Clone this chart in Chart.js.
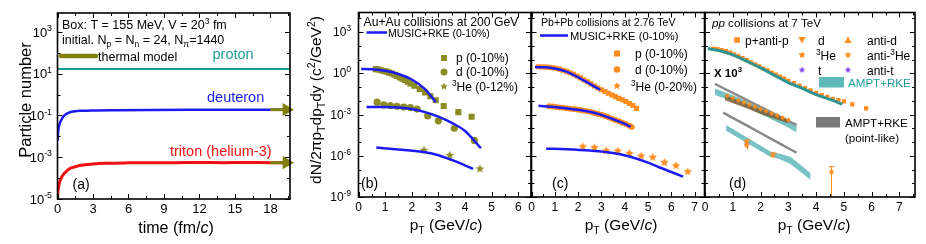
<!DOCTYPE html>
<html><head><meta charset="utf-8">
<script src="https://cdn.jsdelivr.net/npm/chart.js@4.4.0/dist/chart.umd.min.js"></script>
<style>
html,body{margin:0;padding:0;background:#fff;}
#wrap{position:relative;width:926px;height:244px;overflow:hidden;background:#fff;}
#wrap canvas{position:absolute;left:0;top:0;}
</style></head>
<body><div id="wrap">
<canvas id="cA" width="926" height="244"></canvas>
<canvas id="cB" width="926" height="244"></canvas>
<canvas id="cC" width="926" height="244"></canvas>
<canvas id="cD" width="926" height="244"></canvas>
</div>
<script>
// ================= DATA =================
// ---- panel (a): particle number vs time ----
const timeProton = [0, 19.65];
const nProton = [17, 17];
const timeDeuteron = [0,0.05,0.1,0.2,0.3,0.5,0.7,1,1.5,2,3,5,8,12,16,19.65];
const nDeuteron = [0.006,0.015,0.025,0.043,0.058,0.09,0.115,0.14,0.16,0.168,0.175,0.18,0.185,0.188,0.19,0.19];
const timeTriton = [0,0.05,0.1,0.2,0.35,0.5,0.7,1,1.5,2,3,4,6,8,10,12,14,16,18,19.65];
const nTriton = [1.0e-5,2.5e-5,4e-5,7e-5,1.1e-4,1.5e-4,2e-4,2.8e-4,3.5e-4,4.1e-4,4.7e-4,5.1e-4,5.4e-4,5.5e-4,5.5e-4,5.6e-4,5.5e-4,5.6e-4,5.5e-4,5.5e-4];
const thermalTime = [18, 19.35];
const thermalDeuteron = [0.19, 0.19];
const thermalTriton = [5.5e-4, 5.5e-4];
const ticksA_x = [0,3,6,9,12,15,18];
const ticksA_y = [1e-5,1e-3,1e-1,1e1,1e3];

// ---- panel (b): Au+Au 200 GeV ----
const ptB_p = [0.65,0.75,0.85,0.95,1.05,1.15,1.25,1.35,1.45,1.55,1.65,1.75,1.85,1.95,2.1,2.3,2.5,2.7,2.9,3.2,3.75,4.25];
const yB_p = [2.0,1.9,1.66,1.48,1.32,1.12,0.95,0.79,0.63,0.5,0.4,0.32,0.24,0.18,0.126,0.071,0.04,0.021,0.011,0.0042,0.0015,6.9e-4];
const ptB_d = [0.7,0.95,1.2,1.45,1.7,1.95,2.2,2.6,3.0,3.6,4.35];
const yB_d = [7.9e-3,5.0e-3,4.5e-3,4.0e-3,3.5e-3,3.2e-3,2.5e-3,7.9e-4,3.5e-4,1.0e-4,1.3e-5];
const ptB_he = [2.46,3.43,4.56];
const yB_he = [2.5e-6,1.07e-6,1.1e-7];
const ptB_pFit = [0.1,0.5,1.0,1.5,2.0,2.5,2.9];
const yB_pFit = [2.04,2.0,1.5,0.89,0.35,0.071,0.0079];
const ptB_dFit = [0.3,1.0,1.5,2.0,2.5,3.0,3.5,4.0,4.6];
const yB_dFit = [3.5e-3,3.5e-3,3.2e-3,2.5e-3,1.5e-3,7.1e-4,2.5e-4,6.3e-5,3.5e-6];
const ptB_heFit = [0.67,1.5,2.5,3.0,3.5,4.0,4.3];
const yB_heFit = [4.0e-6,2.8e-6,1.8e-6,1.1e-6,5.0e-7,2.0e-7,1.1e-7];

// ---- panel (c): Pb+Pb 2.76 TeV ----
const ptC_p = [0.3,0.45,0.6,0.75,0.9,1.05,1.2,1.35,1.5,1.65,1.8,1.95,2.1,2.25,2.4,2.55,2.7,2.85,3.0,3.15,3.3,3.45,3.6,3.75,3.9,4.05,4.2,4.35,4.5];
const yC_p = [2.95,2.88,2.82,2.69,2.51,2.29,2.0,1.66,1.38,1.1,0.85,0.63,0.46,0.33,0.24,0.17,0.12,0.085,0.063,0.047,0.035,0.026,0.02,0.015,0.0117,0.0089,0.0063,0.0045,0.0028];
const ptC_d = [0.75,0.9,1.05,1.2,1.35,1.5,1.65,1.8,1.95,2.1,2.25,2.4,2.55,2.7,2.85,3.0,3.15,3.3,3.45,3.6,3.75,3.9,4.05,4.2,4.3];
const yC_d = [4.0e-3,3.8e-3,3.5e-3,3.3e-3,3.1e-3,2.8e-3,2.6e-3,2.5e-3,2.3e-3,2.1e-3,1.9e-3,1.7e-3,1.5e-3,1.3e-3,1.1e-3,9.5e-4,7.8e-4,6.3e-4,5.0e-4,4.0e-4,3.2e-4,2.5e-4,2.0e-4,1.5e-4,1.26e-4];
const ptC_he = [2.2,2.7,3.2,3.7,4.2,4.7,5.2,5.7,6.2,6.7];
const yC_he = [4.6e-6,3.9e-6,2.3e-6,2.2e-6,1.5e-6,9.5e-7,7.8e-7,3.2e-7,1.9e-7,6.9e-8];
const ptC_pFit = [0.15,0.6,1.0,1.5,2.0,2.5,2.95];
const yC_pFit = [2.8,2.7,2.2,1.3,0.5,0.17,0.063];
const ptC_dFit = [0.3,1.0,1.5,2.0,2.5,3.0,3.5,4.0,4.25];
const yC_dFit = [4.3e-3,3.5e-3,2.8e-3,2.2e-3,1.6e-3,9.5e-4,4.5e-4,2.1e-4,1.26e-4];
const ptC_heFit = [0.63,1.5,2.5,3.5,4.2,5.0,5.5,6.0,6.5];
const yC_heFit = [3.3e-6,3.0e-6,2.4e-6,1.6e-6,8.9e-7,3.2e-7,1.4e-7,6.6e-8,3.0e-8];

// ---- panel (d): pp 7 TeV ----
const ptD_p = [0.3,0.45,0.6,0.75,0.9,1.05,1.2,1.35,1.5,1.65,1.8,1.95,2.1,2.25,2.4,2.55,2.7,2.85,3.0,3.2,3.4,3.6,3.8,4.0,4.2,4.4,4.6,4.8,5.0,5.3,5.8];
const yD_p = [63,56,48,40,32,24,18,12.6,8.9,6.3,4.5,3.2,2.2,1.6,1.12,0.79,0.56,0.4,0.28,0.19,0.126,0.083,0.056,0.038,0.026,0.019,0.014,0.0112,0.0089,0.0055,0.0028];
const ptD_pAmpt = [0.1,0.5,1.0,1.5,2.0,2.5,3.0,3.5,4.0,4.5,4.95];
const yD_pAmpt = [63,45,22,7.6,2.5,0.71,0.21,0.079,0.028,0.0126,0.0056];
const ptD_dBand = [0.36,1.0,1.5,2.0,2.5,3.0,3.3];
const yD_dBandHi = [7.9e-2,2.5e-2,1.0e-2,3.2e-3,1.0e-3,3.2e-4,1.6e-4];
const yD_dBandLo = [2.6e-2,8.9e-3,3.5e-3,1.1e-3,3.5e-4,1.1e-4,5.0e-5];
const ptD_dPoint = [0.36,1.0,1.5,2.0,2.5,3.0,3.3];
const yD_dPoint = [0.166,0.037,0.0115,3.6e-3,1.1e-3,3.5e-4,1.7e-4];
const ptD_dDataBand = [0.72,1.5,2.0,2.5,3.0];
const yD_dDataBandHi = [2.6e-2,6.3e-3,2.5e-3,1.0e-3,4.0e-4];
const yD_dDataBandLo = [1.1e-2,2.8e-3,1.1e-3,5.0e-4,2.3e-4];
const ptD_d = [0.8,1.0,1.2,1.4,1.6,1.8,2.0,2.2,2.4,2.6,2.8,3.0];
const yD_d = [2.4e-2,1.66e-2,1.1e-2,7.9e-3,5.4e-3,3.8e-3,2.6e-3,1.8e-3,1.26e-3,8.7e-4,6.0e-4,4.2e-4];
const yD_antid = [2.2e-2,1.5e-2,1.0e-2,7.1e-3,5.0e-3,3.5e-3,2.4e-3,1.7e-3,1.15e-3,8.0e-4,5.5e-4,3.8e-4];
const ptD_hePoint = [0.66,1.5,2.0,2.5,3.0,3.3];
const yD_hePoint = [1.35e-3,1.6e-4,4.5e-5,1.26e-5,3.5e-6,1.66e-6];
const ptD_heBand = [0.76,1.5,2.0,2.35,2.7,3.07,3.4,3.8];
const yD_heBandHi = [1.74e-4,2.2e-5,5.6e-6,2.0e-6,1.4e-6,8.5e-7,2.5e-7,5.4e-8];
const yD_heBandLo = [6.6e-5,8.9e-6,2.2e-6,8.5e-7,5.6e-7,2.5e-7,7.9e-8,1.74e-8];
const ptD_he = [1.5,2.44,4.55];
const yD_he = [1.0e-5,1.1e-6,6.9e-8];
const yD_heErrHi = [1.4e-5,1.6e-6,1.6e-7];
const yD_heErrLo = [2.8e-6,7.0e-7,1e-10];
const ptD_antihe = [1.5];
const yD_antihe = [5.6e-6];
const ptD_t = [1.5];
const yD_t = [8e-6];

const ticksBCD_y = [1e-9,1e-6,1e-3,1e0,1e3];
const ticksB_x = [0,1,2,3,4,5,6];
const ticksCD_x = [0,1,2,3,4,5,6,7];

// ================= STYLE / HELPERS =================
const FONT = '"Liberation Sans", Arial, Helvetica, sans-serif';
const BLUE = '#1c1cf0', RED = '#f01010', TEAL = '#1e9b96', OLIVE = '#808010';
const OLIVEM = '#8c8c22', ORANGE = '#ff8c1e', PURPLE = '#7a3be6';
const BANDTEAL = 'rgba(95,185,185,0.85)', GREY = '#8a8a8a';

function pts(xs, ys){ return xs.map((x,i)=>({x:x, y:ys[i]})); }
function makeStar(color, r){
  const s = Math.ceil(r*2+2), c = document.createElement('canvas');
  c.width = s; c.height = s; const g = c.getContext('2d');
  g.fillStyle = color; g.beginPath();
  for(let i=0;i<10;i++){ const a=-Math.PI/2+i*Math.PI/5, rr = i%2 ? r*0.45 : r;
    g.lineTo(s/2+rr*Math.cos(a), s/2+rr*Math.sin(a)); }
  g.closePath(); g.fill(); return c;
}
function rich(ctx, x, y, parts, size, color, align){
  const segs = parts.map(p => typeof p === 'string' ? [p, ''] : p);
  const fontFor = f => {
    const s = (f.includes('_') || f.includes('^')) ? size*0.68 : size;
    return (f.includes('i') ? 'italic ' : '') + (f.includes('B') ? 'bold ' : '') + s.toFixed(1) + 'px ' + FONT;
  };
  let w = 0;
  for(const [t,f] of segs){ ctx.font = fontFor(f); w += ctx.measureText(t).width; }
  let cx = align === 'center' ? x - w/2 : align === 'right' ? x - w : x;
  const base = y + size*0.35;
  ctx.fillStyle = color; ctx.textBaseline = 'alphabetic'; ctx.textAlign = 'left';
  for(const [t,f] of segs){
    ctx.font = fontFor(f);
    const dy = f.includes('_') ? size*0.24 : f.includes('^') ? -size*0.42 : 0;
    ctx.fillText(t, cx, base + dy); cx += ctx.measureText(t).width;
  }
}
function rotRich(ctx, x, y, parts, size, color){
  ctx.save(); ctx.translate(x, y); ctx.rotate(-Math.PI/2);
  rich(ctx, 0, 0, parts, size, color, 'center'); ctx.restore();
}
function drawMarker(ctx, kind, x, y, r, color){
  ctx.save(); ctx.fillStyle = color;
  if(kind === 'rect'){ ctx.fillRect(x-r, y-r, 2*r, 2*r); }
  else if(kind === 'circle'){ ctx.beginPath(); ctx.arc(x,y,r,0,2*Math.PI); ctx.fill(); }
  else if(kind === 'star'){ const s = makeStar(color, r); ctx.drawImage(s, x - s.width/2, y - s.height/2); }
  else if(kind === 'tup' || kind === 'tdown'){
    const d = kind === 'tup' ? -1 : 1; ctx.beginPath();
    ctx.moveTo(x, y + d*r); ctx.lineTo(x - r, y - d*r*0.8); ctx.lineTo(x + r, y - d*r*0.8); ctx.closePath(); ctx.fill();
  }
  ctx.restore();
}

function framePlugin(id, cfg){
  return { id: id, afterDraw(chart){
    const ctx = chart.ctx, a = chart.chartArea, xs = chart.scales.x, ys = chart.scales.y;
    ctx.save();
    ctx.strokeStyle = '#000'; ctx.lineWidth = 1;
    const tickX = (v, len) => { const p = Math.round(xs.getPixelForValue(v)) + 0.5;
      ctx.beginPath(); ctx.moveTo(p, a.bottom); ctx.lineTo(p, a.bottom - len);
      ctx.moveTo(p, a.top); ctx.lineTo(p, a.top + len); ctx.stroke(); };
    const tickY = (v, len) => { const p = Math.round(ys.getPixelForValue(v)) + 0.5;
      ctx.beginPath(); ctx.moveTo(a.left, p); ctx.lineTo(a.left + len, p);
      ctx.moveTo(a.right, p); ctx.lineTo(a.right - len, p); ctx.stroke(); };
    cfg.xMajor.forEach(v => tickX(v, 5)); cfg.xMinor.forEach(v => tickX(v, 3));
    cfg.yMajor.forEach(v => tickY(v, 5)); cfg.yMinor.forEach(v => tickY(v, 3));
    ctx.lineWidth = 1.6;
    ctx.strokeRect(a.left, a.top, a.right - a.left, a.bottom - a.top);
    cfg.xLabels.forEach(v => rich(ctx, xs.getPixelForValue(v), cfg.xLabelY, [String(v)], cfg.tickSize, '#000', 'center'));
    if(cfg.yLabels) cfg.yLabels.forEach(v => {
      const e = Math.round(Math.log10(v));
      rich(ctx, cfg.yLabelX, ys.getPixelForValue(v), ['10', [String(e), '^']], cfg.tickSize, '#000', 'right');
    });
    if(cfg.extra) cfg.extra(ctx, chart);
    ctx.restore();
  }};
}
function range(a, b, s){ const r=[]; for(let v=a; v<=b+1e-9; v+=s) r.push(+v.toFixed(3)); return r; }
function decades(a, b){ const r=[]; for(let e=a; e<=b; e++) r.push(Math.pow(10,e)); return r; }

function baseOptions(area, xmin, xmax, ymin, ymax){
  return {
    responsive:false, animation:false, devicePixelRatio:1,
    layout:{padding:{left:area[0], top:area[1], right:926-area[2], bottom:244-area[3]}},
    plugins:{legend:{display:false}, tooltip:{enabled:false}, title:{display:false}},
    scales:{
      x:{type:'linear', min:xmin, max:xmax, display:false},
      y:{type:'logarithmic', min:ymin, max:ymax, display:false}
    },
    elements:{line:{tension:0}, point:{radius:0}}
  };
}
function lineDS(data, color, width, extra){
  return Object.assign({data:data, borderColor:color, borderWidth:width, pointRadius:0, fill:false,
    cubicInterpolationMode:'monotone', showLine:true}, extra||{});
}
function markDS(data, style, r, color){
  return {data:data, showLine:false, pointStyle:style, pointRadius:r, pointBackgroundColor:color,
    pointBorderColor:color, pointBorderWidth:0, borderColor:color};
}
function ordered(list){ list.forEach((d,i)=>{ d.order = 200 - i; }); return list; }

const starOlive = makeStar(OLIVEM, 4.5);
const starOrange = makeStar(ORANGE, 4.5);
const starOrangeS = makeStar(ORANGE, 3.5);
const starPurpleS = makeStar(PURPLE, 3);

// ================= PANEL A =================
const areaA = [57.5, 13, 290, 199];
new Chart(document.getElementById('cA'), {
  type:'line',
  data:{datasets: ordered([
    lineDS(pts(timeTriton, nTriton), RED, 3),
    lineDS(pts(timeDeuteron, nDeuteron), BLUE, 2.5),
    lineDS(pts(timeProton, nProton), TEAL, 2),
    lineDS(pts(thermalTime, thermalDeuteron), OLIVE, 3, {pointRadius:[0,4.6], pointStyle:'triangle', pointRotation:90, pointBackgroundColor:OLIVE, pointBorderColor:OLIVE, clip:false}),
    lineDS(pts(thermalTime, thermalTriton), OLIVE, 3, {pointRadius:[0,4.6], pointStyle:'triangle', pointRotation:90, pointBackgroundColor:OLIVE, pointBorderColor:OLIVE, clip:false})
  ])},
  options: baseOptions(areaA, 0, 19.65, 1e-5, Math.pow(10,3.91)),
  plugins:[framePlugin('frameA', {
    xMajor: ticksA_x, xMinor: range(1.5, 19.5, 3), yMajor: ticksA_y, yMinor: decades(-4, 3).filter(v=>!ticksA_y.includes(v)),
    xLabels: ticksA_x, xLabelY: 208, yLabels: ticksA_y, yLabelX: 52, tickSize: 13,
    extra(ctx){
      rich(ctx, 62, 25, ['Box: T = 155 MeV, V = 20', ['3','^'], ' fm'], 12.5, '#000');
      rich(ctx, 62, 40, ['initial. N', ['p','_'], ' = N', ['n','_'], ' = 24, N', ['π','_'], '=1440'], 12.5, '#000');
      ctx.strokeStyle = OLIVE; ctx.lineWidth = 4.5; ctx.lineCap = 'round';
      ctx.beginPath(); ctx.moveTo(61, 56); ctx.lineTo(96, 56); ctx.stroke();
      rich(ctx, 98, 56.5, ['thermal model'], 12.5, '#000');
      rich(ctx, 212.5, 54, ['proton'], 14.5, TEAL);
      rich(ctx, 207, 97, ['deuteron'], 14.5, BLUE);
      rich(ctx, 170, 151, ['triton (helium-3)'], 14.5, RED);
      rich(ctx, 72.5, 184, ['(a)'], 14, '#000');
      rich(ctx, 176, 227, ['time (fm/', ['c','i'], ')'], 16, '#000', 'center');
      rotRich(ctx, 25, 100, ['Particle number'], 16.5, '#000');
    }
  })]
});

// ================= PANEL B =================
const areaB = [358.5, 12.5, 531, 197];
new Chart(document.getElementById('cB'), {
  type:'line',
  data:{datasets: ordered([
    markDS(pts(ptB_p, yB_p), 'rect', 4.3, OLIVEM),
    markDS(pts(ptB_d, yB_d), 'circle', 3.6, OLIVEM),
    markDS(pts(ptB_he, yB_he), starOlive, 4, OLIVEM),
    lineDS(pts(ptB_pFit, yB_pFit), BLUE, 2.5),
    lineDS(pts(ptB_dFit, yB_dFit), BLUE, 2.5),
    lineDS(pts(ptB_heFit, yB_heFit), BLUE, 2.5)
  ])},
  options: baseOptions(areaB, 0, 6.48, 1e-9, Math.pow(10,4.42)),
  plugins:[framePlugin('frameB', {
    xMajor: ticksB_x, xMinor: range(0.5, 6.5, 1), yMajor: ticksBCD_y, yMinor: decades(-8, 4).filter(v=>!ticksBCD_y.some(t=>Math.abs(t-v)<v*1e-6)),
    xLabels: ticksB_x, xLabelY: 207, yLabels: ticksBCD_y, yLabelX: 351, tickSize: 12,
    extra(ctx){
      rich(ctx, 363.5, 21.5, ['Au+Au collisions at 200 GeV'], 12.2, '#000');
      ctx.strokeStyle = BLUE; ctx.lineWidth = 2.5;
      ctx.beginPath(); ctx.moveTo(366.5, 32.5); ctx.lineTo(387, 32.5); ctx.stroke();
      rich(ctx, 388, 33, ['MUSIC+RKE (0-10%)'], 10.5, '#000');
      drawMarker(ctx, 'rect', 444, 58, 3, OLIVEM);
      drawMarker(ctx, 'circle', 444, 72, 3.5, OLIVEM);
      drawMarker(ctx, 'star', 444, 86.5, 4, OLIVEM);
      rich(ctx, 456, 58, ['p (0-10%)'], 12, '#000');
      rich(ctx, 456, 72, ['d (0-10%)'], 12, '#000');
      rich(ctx, 452, 87, [['3','^'], 'He (0-12%)'], 12, '#000');
      rich(ctx, 361, 183, ['(b)'], 14, '#000');
      rich(ctx, 446, 225, ['p', ['T','_'], ' (GeV/', ['c','i'], ')'], 15.5, '#000', 'center');
      rotRich(ctx, 316, 100, ['dN/2πp', ['T','_'], 'dp', ['T','_'], 'dy (c', ['2','^'], '/GeV', ['2','^'], ')'], 15.5, '#000');
    }
  })]
});

// ================= PANEL C =================
const areaC = [531.5, 12.5, 704.5, 197];
new Chart(document.getElementById('cC'), {
  type:'line',
  data:{datasets: ordered([
    markDS(pts(ptC_p, yC_p), 'rect', 3.6, ORANGE),
    markDS(pts(ptC_d, yC_d), 'circle', 3.0, ORANGE),
    markDS(pts(ptC_he, yC_he), starOrange, 4, ORANGE),
    lineDS(pts(ptC_pFit, yC_pFit), BLUE, 2.5),
    lineDS(pts(ptC_dFit, yC_dFit), BLUE, 2.5),
    lineDS(pts(ptC_heFit, yC_heFit), BLUE, 2.5)
  ])},
  options: baseOptions(areaC, 0, 7.42, 1e-9, Math.pow(10,4.42)),
  plugins:[framePlugin('frameC', {
    xMajor: ticksCD_x, xMinor: range(0.5, 7, 1), yMajor: ticksBCD_y, yMinor: decades(-8, 4).filter(v=>!ticksBCD_y.some(t=>Math.abs(t-v)<v*1e-6)),
    xLabels: ticksCD_x, xLabelY: 207, yLabels: null, tickSize: 12,
    extra(ctx){
      rich(ctx, 541, 22.5, ['Pb+Pb collisions at 2.76 TeV'], 10.6, '#000');
      ctx.strokeStyle = BLUE; ctx.lineWidth = 2.5;
      ctx.beginPath(); ctx.moveTo(540, 35.5); ctx.lineTo(568, 35.5); ctx.stroke();
      rich(ctx, 570, 36, ['MUSIC+RKE (0-10%)'], 11.2, '#000');
      drawMarker(ctx, 'rect', 617, 53.5, 3, ORANGE);
      drawMarker(ctx, 'circle', 617, 69.5, 3.3, ORANGE);
      drawMarker(ctx, 'star', 617, 86, 4, ORANGE);
      rich(ctx, 635, 54, ['p (0-10%)'], 12, '#000');
      rich(ctx, 635, 70, ['d (0-10%)'], 12, '#000');
      rich(ctx, 631, 87, [['3','^'], 'He (0-20%)'], 12, '#000');
      rich(ctx, 552, 183, ['(c)'], 14, '#000');
      rich(ctx, 621, 225, ['p', ['T','_'], ' (GeV/', ['c','i'], ')'], 15.5, '#000', 'center');
    }
  })]
});

// ================= PANEL D =================
const areaD = [705, 12.5, 915, 197];
new Chart(document.getElementById('cD'), {
  type:'line',
  data:{datasets: ordered([
    lineDS(pts(ptD_dBand, yD_dBandHi), 'rgba(0,0,0,0)', 0, {cubicInterpolationMode:'default'}),
    lineDS(pts(ptD_dBand, yD_dBandLo), 'rgba(0,0,0,0)', 0, {fill:'-1', backgroundColor:BANDTEAL, cubicInterpolationMode:'default'}),
    lineDS(pts(ptD_dPoint, yD_dPoint), GREY, 2.5),
    lineDS(pts(ptD_dDataBand, yD_dDataBandHi), 'rgba(0,0,0,0)', 0, {cubicInterpolationMode:'default'}),
    lineDS(pts(ptD_dDataBand, yD_dDataBandLo), 'rgba(0,0,0,0)', 0, {fill:'-1', backgroundColor:'rgba(125,95,55,0.85)', cubicInterpolationMode:'default'}),
    markDS(pts(ptD_d, yD_d), 'triangle', 2.6, ORANGE),
    Object.assign(markDS(pts(ptD_d, yD_antid), 'triangle', 2.6, ORANGE), {pointRotation:180}),
    lineDS(pts(ptD_hePoint, yD_hePoint), GREY, 2.5),
    lineDS(pts(ptD_heBand, yD_heBandHi), 'rgba(0,0,0,0)', 0, {cubicInterpolationMode:'default'}),
    lineDS(pts(ptD_heBand, yD_heBandLo), 'rgba(0,0,0,0)', 0, {fill:'-1', backgroundColor:BANDTEAL, cubicInterpolationMode:'default'}),
    markDS(pts(ptD_t, yD_t), starPurpleS, 3, PURPLE),
    markDS(pts(ptD_he, yD_he), starOrangeS, 3.5, ORANGE),
    markDS(pts(ptD_antihe, yD_antihe), starOrangeS, 3.5, ORANGE),
    markDS(pts(ptD_p, yD_p), 'rect', 3.0, ORANGE),
    lineDS(pts(ptD_pAmpt, yD_pAmpt), '#2f948f', 3)
  ])},
  options: baseOptions(areaD, 0, 7.56, 1e-9, Math.pow(10,4.42)),
  plugins:[{
    id:'errD', afterDatasetsDraw(chart){
      const ctx = chart.ctx, xs = chart.scales.x, ys = chart.scales.y, a = chart.chartArea;
      ctx.save(); ctx.beginPath(); ctx.rect(a.left, a.top, a.right-a.left, a.bottom-a.top); ctx.clip();
      ctx.strokeStyle = ORANGE; ctx.lineWidth = 1;
      ptD_he.forEach((p,i) => {
        const x = Math.round(xs.getPixelForValue(p)) + 0.5;
        const y1 = ys.getPixelForValue(yD_heErrHi[i]), y2 = ys.getPixelForValue(yD_heErrLo[i]);
        ctx.beginPath(); ctx.moveTo(x, y1); ctx.lineTo(x, y2);
        ctx.moveTo(x-3, y1); ctx.lineTo(x+3, y1); ctx.stroke();
      });
      ctx.restore();
    }
  }, framePlugin('frameD', {
    xMajor: ticksCD_x, xMinor: range(0.5, 7.5, 1), yMajor: ticksBCD_y, yMinor: decades(-8, 4).filter(v=>!ticksBCD_y.some(t=>Math.abs(t-v)<v*1e-6)),
    xLabels: ticksCD_x, xLabelY: 207, yLabels: null, tickSize: 12,
    extra(ctx){
      rich(ctx, 712, 23, [['pp','i'], ' collisions at 7 TeV'], 11.6, '#000');
      drawMarker(ctx, 'rect', 737, 40, 2.8, ORANGE);
      rich(ctx, 745, 40.5, ['p+anti-p'], 12, '#000');
      drawMarker(ctx, 'tdown', 802, 40, 3.6, ORANGE);
      rich(ctx, 818, 40.5, ['d'], 12, '#000');
      drawMarker(ctx, 'tup', 848, 40, 3.6, ORANGE);
      rich(ctx, 867, 40.5, ['anti-d'], 12, '#000');
      drawMarker(ctx, 'star', 802, 55, 3.8, ORANGE);
      rich(ctx, 816, 55.5, [['3','^'], 'He'], 12, '#000');
      drawMarker(ctx, 'star', 848, 55, 3.8, ORANGE);
      rich(ctx, 867, 55.5, ['anti-', ['3','^'], 'He'], 12, '#000');
      drawMarker(ctx, 'star', 802, 70, 3.4, PURPLE);
      rich(ctx, 818, 70.5, ['t'], 12, '#000');
      drawMarker(ctx, 'star', 848, 70, 3.4, PURPLE);
      rich(ctx, 867, 70.5, ['anti-t'], 12, '#000');
      rich(ctx, 714, 73, [['X 10','B'], ['3','B^']], 11.5, '#000');
      ctx.fillStyle = 'rgb(95,185,185)'; ctx.fillRect(819, 77, 25, 10.5);
      rich(ctx, 848, 82.5, ['AMPT+RKE'], 11.6, TEAL);
      ctx.fillStyle = '#7a7a7a'; ctx.fillRect(816, 117, 24, 10.5);
      rich(ctx, 845, 122.5, ['AMPT+RKE'], 11.6, '#000');
      rich(ctx, 845, 137.5, ['(point-like)'], 11.6, '#000');
      rich(ctx, 729, 183, ['(d)'], 14, '#000');
      rich(ctx, 814, 225, ['p', ['T','_'], ' (GeV/', ['c','i'], ')'], 15.5, '#000', 'center');
    }
  })]
});
</script>
</body></html>
